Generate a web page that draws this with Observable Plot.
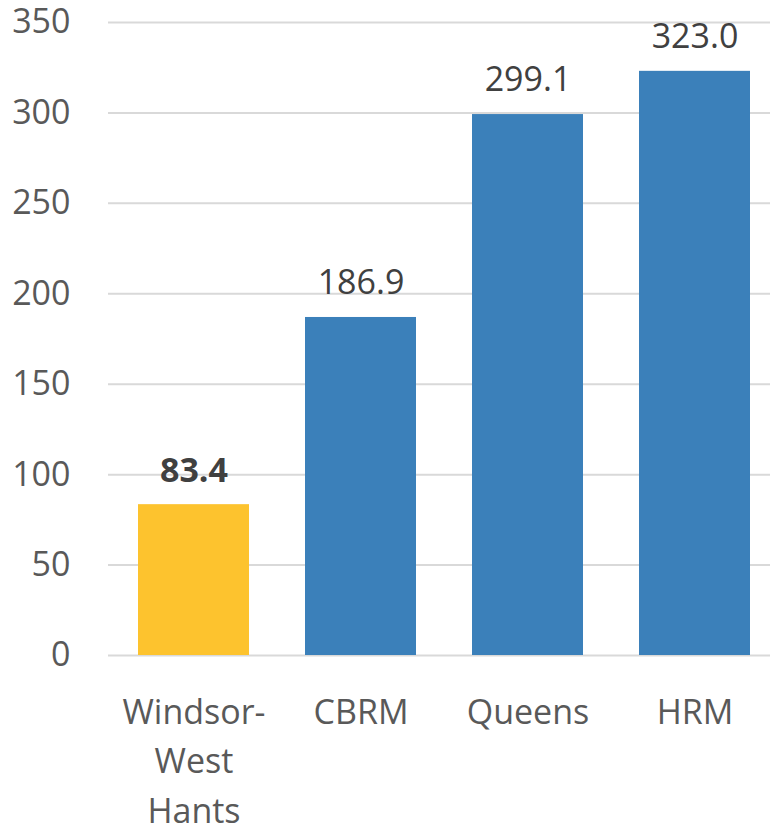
<!DOCTYPE html>
<html>
<head>
<meta charset="utf-8">
<script src="https://cdn.jsdelivr.net/npm/d3@7"></script>
<script src="https://cdn.jsdelivr.net/npm/@observablehq/plot@0.6"></script>
<style>
  html, body { margin: 0; padding: 0; background: #fff; }
  #chart svg { display: block; }
</style>
</head>
<body>
<div id="chart"></div>
<script>
const categories = ["Windsor-\nWest\nHants", "CBRM", "Queens", "HRM"];
const values = [83.4, 186.9, 299.1, 323.0];
const highlight = [true, false, false, false];
const yTicks = [0, 50, 100, 150, 200, 250, 300, 350];

const data = categories.map((c, i) => ({cat: c, value: values[i], hl: highlight[i]}));

const chart = Plot.plot({
  width: 774,
  height: 827,
  marginLeft: 108,
  marginRight: 4,
  marginTop: 22,
  marginBottom: 172,
  style: {fontFamily: "'Open Sans', 'Noto Sans', sans-serif", fontSize: "34px", background: "#fff"},
  x: {domain: categories, range: [108, 780], paddingInner: 0.333, paddingOuter: 0.167, label: null},
  y: {domain: [0, 350], label: null},
  marks: [
    Plot.gridY(yTicks, {stroke: "#d9d9d9", strokeOpacity: 1, strokeWidth: 2}),
    Plot.axisY(yTicks, {tickSize: 0, tickPadding: 38, fontSize: 34, fill: "#595959", label: null}),
    Plot.axisX({tickSize: 0, tickPadding: 33, fontSize: 34, fill: "#595959", lineHeight: 1.46, label: null}),
    Plot.barY(data, {x: "cat", y: "value", fill: d => d.hl ? "#fdc32e" : "#3b80ba"}),
    Plot.text(data.filter(d => !d.hl), {x: "cat", y: "value", text: d => d.value.toFixed(1), dy: -34, fontSize: 34,
      fill: "#404040"}),
    Plot.text(data.filter(d => d.hl), {x: "cat", y: "value", text: d => d.value.toFixed(1), dy: -34, fontSize: 34,
      fill: "#404040", fontWeight: "bold"})
  ]
});
document.getElementById("chart").appendChild(chart);
</script>
</body>
</html>
